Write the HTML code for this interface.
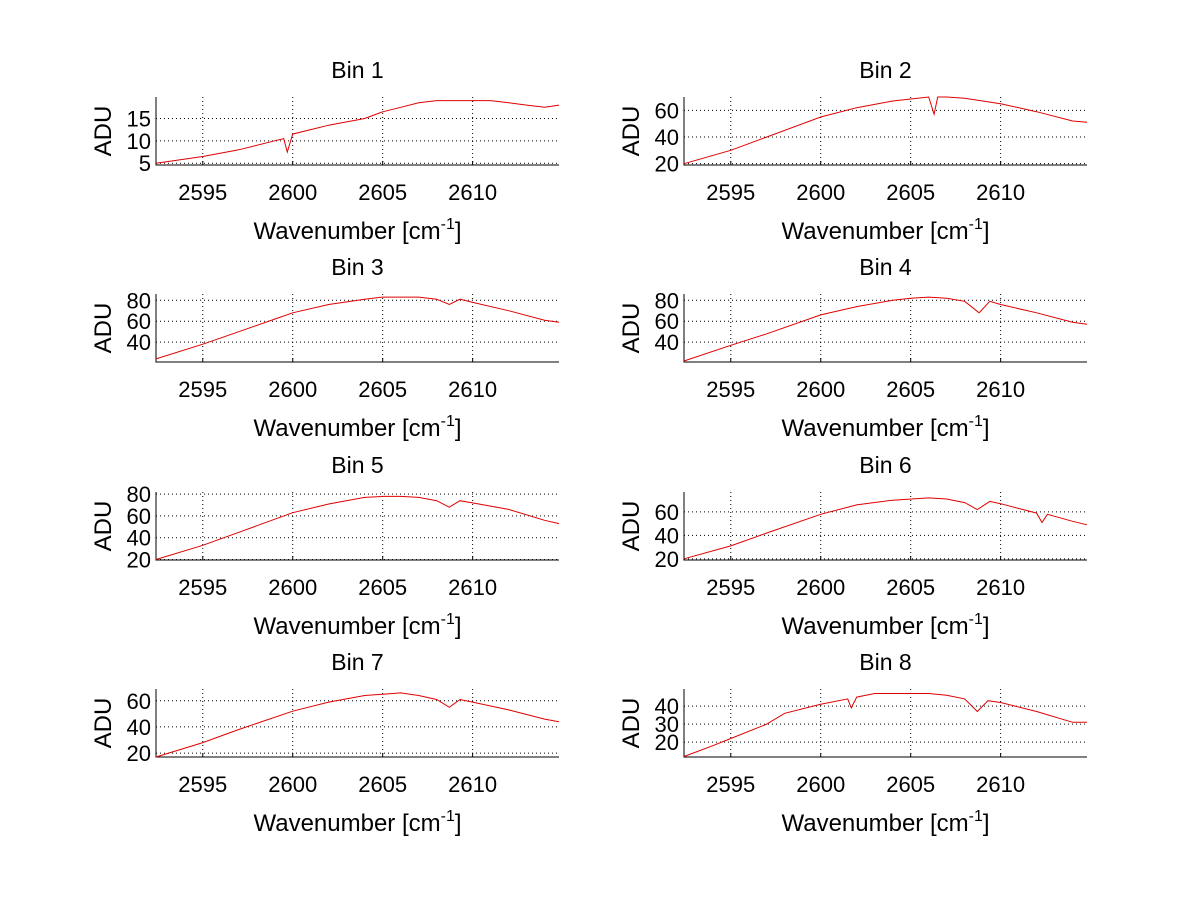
<!DOCTYPE html>
<html><head><meta charset="utf-8"><style>
html,body{margin:0;padding:0;background:#fff;}
svg{display:block;font-family:"Liberation Sans",sans-serif;}
</style></head><body>
<svg id="fig" width="1200" height="901" viewBox="0 0 1200 901"></svg>
<script>
const xTicks=[2595,2600,2605,2610];
const xMin=2592.4, xMax=2614.8;
const w1=[2592.4,2595,2597,2599,2599.5,2599.7,2600,2602,2604,2605,2606,2607,2608,2610,2611,2612,2613,2614,2614.8];
const v1=[5,6.5,8,10,10.5,7.5,11.5,13.5,15,16.5,17.5,18.5,19,19,19,18.5,18,17.5,18];
const w2=[2592.4,2595,2597,2600,2602,2604,2605,2606,2606.3,2606.5,2607,2608,2610,2612,2614,2614.8];
const v2=[20,30,40,55,62,67,68.5,70,57,70,70,69,65,59,52,51];
const w3=[2592.4,2595,2597,2599,2600,2602,2604,2605,2606,2607,2608,2608.7,2609.3,2610,2612,2614,2614.8];
const v3=[24,38,50,62,68,76,81,83,83,83,81,76,81,78,70,61,59];
const w4=[2592.4,2595,2597,2600,2602,2604,2605,2606,2607,2608,2608.8,2609.4,2610,2612,2614,2614.8];
const v4=[22,37,48,66,74,80,82,83,82,79,68,79,76,68,59,57];
const w5=[2592.4,2595,2597,2600,2602,2604,2605,2606,2607,2608,2608.7,2609.3,2610,2612,2614,2614.8];
const v5=[20,33,45,63,71,77,78,78,77,74,68,74,72,66,56,53];
const w6=[2592.4,2595,2597,2600,2602,2604,2606,2607,2608,2608.7,2609.4,2610,2612,2612.3,2612.6,2614,2614.8];
const v6=[20,31,42,58,66,70,72,71,68,62,69,67,59,51,58,52,49];
const w7=[2592.4,2595,2597,2600,2602,2604,2606,2607,2608,2608.7,2609.3,2610,2612,2614,2614.8];
const v7=[17,28,38,52,59,64,66,64,61,55,61,59,53,46,44];
const w8=[2592.4,2594,2595,2597,2598,2600,2601.5,2601.7,2602,2603,2604,2605,2606,2607,2608,2608.7,2609.3,2610,2612,2614,2614.8];
const v8=[12,18,22,30,36,41,44,39,45,47,47,47,47,46,44,37,43,42,37,31,31];
const yTicks1=[5,10,15], yTicks2=[20,40,60], yTicks3=[40,60,80], yTicks4=[40,60,80];
const yTicks5=[20,40,60,80], yTicks6=[20,40,60], yTicks7=[20,40,60], yTicks8=[20,30,40];
const yRanges=[[4.6,19.8],[19,70],[21,86],[21,86],[19.5,82],[19,77],[17,69],[11.7,49.5]];
const panels=[[w1,v1,yTicks1],[w2,v2,yTicks2],[w3,v3,yTicks3],[w4,v4,yTicks4],[w5,v5,yTicks5],[w6,v6,yTicks6],[w7,v7,yTicks7],[w8,v8,yTicks8]];
const NS="http://www.w3.org/2000/svg";
const svg=document.getElementById('fig');
function mk(tag,attrs,parent){const e=document.createElementNS(NS,tag);for(const k in attrs)e.setAttribute(k,attrs[k]);parent.appendChild(e);return e;}
const lefts=[156,684], bottoms=[165,362,560,757], AW=403, AH=68;
panels.forEach((p,i)=>{
  const L=lefts[i%2], B=bottoms[Math.floor(i/2)], T=B-AH, R=L+AW;
  const [yMin,yMax]=yRanges[i];
  const sx=x=>L+(x-xMin)/(xMax-xMin)*AW;
  const sy=y=>B-(y-yMin)/(yMax-yMin)*AH;
  const g=mk('g',{},svg);
  
  
  xTicks.forEach(t=>{
    const l=mk('line',{x1:sx(t),x2:sx(t),y1:T,y2:B,stroke:'#000','stroke-width':1,'stroke-dasharray':'1,3'},g);
    
    
    const tk=mk('line',{x1:sx(t),x2:sx(t),y1:B,y2:B-4,stroke:'#000'},g);
    
    
    const tx=mk('text',{x:sx(t),y:B+35,'font-size':22,'text-anchor':'middle'},g);
    tx.textContent=t;
    
    
  });
  p[2].forEach(t=>{
    const l=mk('line',{x1:L,x2:R,y1:sy(t),y2:sy(t),stroke:'#000','stroke-width':1,'stroke-dasharray':'1,3'},g);
    
    
    const tx=mk('text',{x:L-5,y:sy(t)+8,'font-size':22,'text-anchor':'end'},g);
    tx.textContent=t;
    
    
  });
  const ax=mk('path',{d:`M${L},${T}V${B}H${R}`,stroke:'#000',fill:'none','stroke-width':1},g);
  
  
  const pts=p[0].map((x,k)=>sx(x).toFixed(1)+','+sy(p[1][k]).toFixed(1)).join(' ');
  const pl=mk('polyline',{points:pts,fill:'none',stroke:'#e00000','stroke-width':1},g);
  
  
  const tt=mk('text',{x:L+AW/2,y:T-19,'font-size':23,'text-anchor':'middle'},g);
  tt.textContent='Bin '+(i+1);
  
  
  const yl=mk('text',{x:0,y:0,'font-size':24,'text-anchor':'middle',transform:`translate(${L-45},${B-AH/2}) rotate(-90)`},g);
  yl.textContent='ADU';
  
  
  const xl=mk('text',{x:L+AW/2,y:B+74,'font-size':24,'text-anchor':'middle'},g);
  xl.innerHTML='Wavenumber [cm<tspan dy="-10" font-size="16">-1</tspan><tspan dy="10">]</tspan>';
  
  
});
</script>
</body></html>
